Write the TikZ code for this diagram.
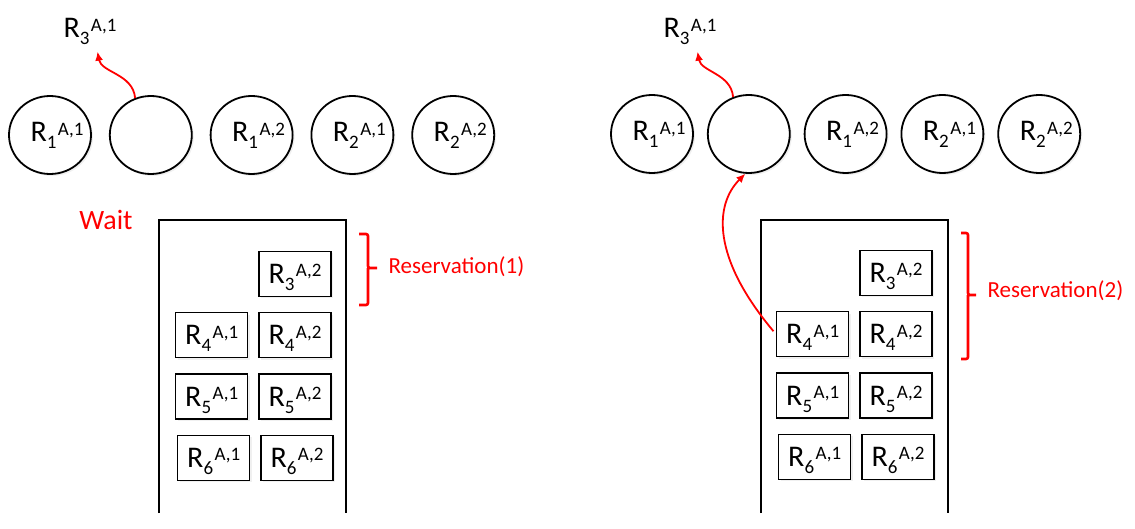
\documentclass[tikz,border=0pt]{standalone}
\usepackage{fontspec}
\setmainfont{Carlito}
\usetikzlibrary{
  arrows.meta,
  positioning,
  shapes.geometric,
  shadows
}
\definecolor{MarkRed}{RGB}{255,0,0}
\newcommand{\rlab}[2]{R\raisebox{-7pt}{\fontsize{19}{20}\selectfont #1}\hspace{1.5pt}\raisebox{6.5pt}{\fontsize{19}{20}\selectfont A,#2}}
\newcommand{\inring}[2]{\makebox[0pt]{\hspace*{14pt}\rlab{#1}{#2}}}
\tikzset{
  ring/.style={draw,ellipse,line width=1.8pt,minimum width=82pt,minimum height=78pt,inner sep=0pt,fill=white,drop shadow={opacity=0.12,shadow xshift=2pt,shadow yshift=-2pt},font=\fontsize{30}{32}\selectfont,text height=19pt,text depth=5pt},
  slot/.style={draw,line width=1.3pt,minimum width=72pt,minimum height=45pt,inner sep=0pt,fill=white,drop shadow={opacity=0.12,shadow xshift=2pt,shadow yshift=-2pt},font=\fontsize{30}{32}\selectfont,text height=19pt,text depth=0pt},
  outlabel/.style={font=\fontsize{30}{32}\selectfont,anchor=base},
  queue/.style={line width=2.4pt},
  redtext/.style={text=MarkRed,font=\fontsize{23}{25}\selectfont},
  moveto/.style={-{Latex[length=9pt,width=8pt]},line width=1.8pt,draw=MarkRed},
  brace/.style={line width=2.6pt,draw=MarkRed,rounded corners=2pt}
}
\begin{document}
\begin{tikzpicture}[x=1pt,y=-1pt,node distance=17pt]
\useasboundingbox (0,0) rectangle (1135,529);
% left: the slot is freed
\node[ring] (la1) at (50,135) {\inring{1}{1}};
\node[ring,right=of la1] (lfree) {};
\node[ring,right=of lfree] (la2) {\inring{1}{2}};
\node[ring,right=of la2] (lb1) {\inring{2}{1}};
\node[ring,right=of lb1] (lb2) {\inring{2}{2}};
\node[outlabel] (lout) at (90,38) {\rlab{3}{1}};
\draw[moveto,shorten >=3pt] (lfree.113) to[out=95,in=-80] ([xshift=7pt]lout.south);

\draw[queue] (159,513) -- (159,220) -- (346,220) -- (346,513);
\node[slot] (lq3b) at (295,274) {\rlab{3}{2}};
\node[slot,below=15pt of lq3b] (lq4b) {\rlab{4}{2}};
\node[slot,left=10pt of lq4b] (lq4a) {\rlab{4}{1}};
\node[slot,below=15pt of lq4b] (lq5b) {\rlab{5}{2}};
\node[slot,left=10pt of lq5b] (lq5a) {\rlab{5}{1}};
\node[slot,below=15pt of lq5b,xshift=2pt] (lq6b) {\rlab{6}{2}};
\node[slot,left=10pt of lq6b] (lq6a) {\rlab{6}{1}};

\node[redtext,font=\fontsize{28}{30}\selectfont] (lwait) at (106,220) {Wait};
\draw[brace] (359,234) -| (368,268) -- (377,268) (368,268) |- (359,305);
\node[redtext,anchor=west] (lres) at (385,267) {Reservation(1)};

% right: the next request takes it
\node[ring] (ra1) at (652,134) {\inring{1}{1}};
\node[ring,right=13pt of ra1] (rfree) {};
\node[ring,right=13pt of rfree] (ra2) {\inring{1}{2}};
\node[ring,right=13pt of ra2] (rb1) {\inring{2}{1}};
\node[ring,right=13pt of rb1] (rb2) {\inring{2}{2}};
\node[outlabel] (rout) at (690,38) {\rlab{3}{1}};
\draw[moveto,shorten >=3pt] (rfree.113) to[out=95,in=-80] ([xshift=7pt]rout.south);

\draw[queue] (761,513) -- (761,220) -- (948,220) -- (948,513);
\node[slot] (rq3b) at (896,273) {\rlab{3}{2}};
\node[slot,below=15pt of rq3b] (rq4b) {\rlab{4}{2}};
\node[slot,left=10pt of rq4b] (rq4a) {\rlab{4}{1}};
\node[slot,below=15pt of rq4b] (rq5b) {\rlab{5}{2}};
\node[slot,left=10pt of rq5b] (rq5a) {\rlab{5}{1}};
\node[slot,below=15pt of rq5b,xshift=2pt] (rq6b) {\rlab{6}{2}};
\node[slot,left=10pt of rq6b] (rq6a) {\rlab{6}{1}};
\draw[moveto,shorten <=4pt] (rq4a.west) .. controls (712,258) and (714,205) .. (rfree.265);

\draw[brace] (961,233) -| (968,295) -- (976,295) (968,295) |- (961,359);
\node[redtext,anchor=west] (rres) at (984,291) {Reservation(2)};
\end{tikzpicture}
\end{document}
